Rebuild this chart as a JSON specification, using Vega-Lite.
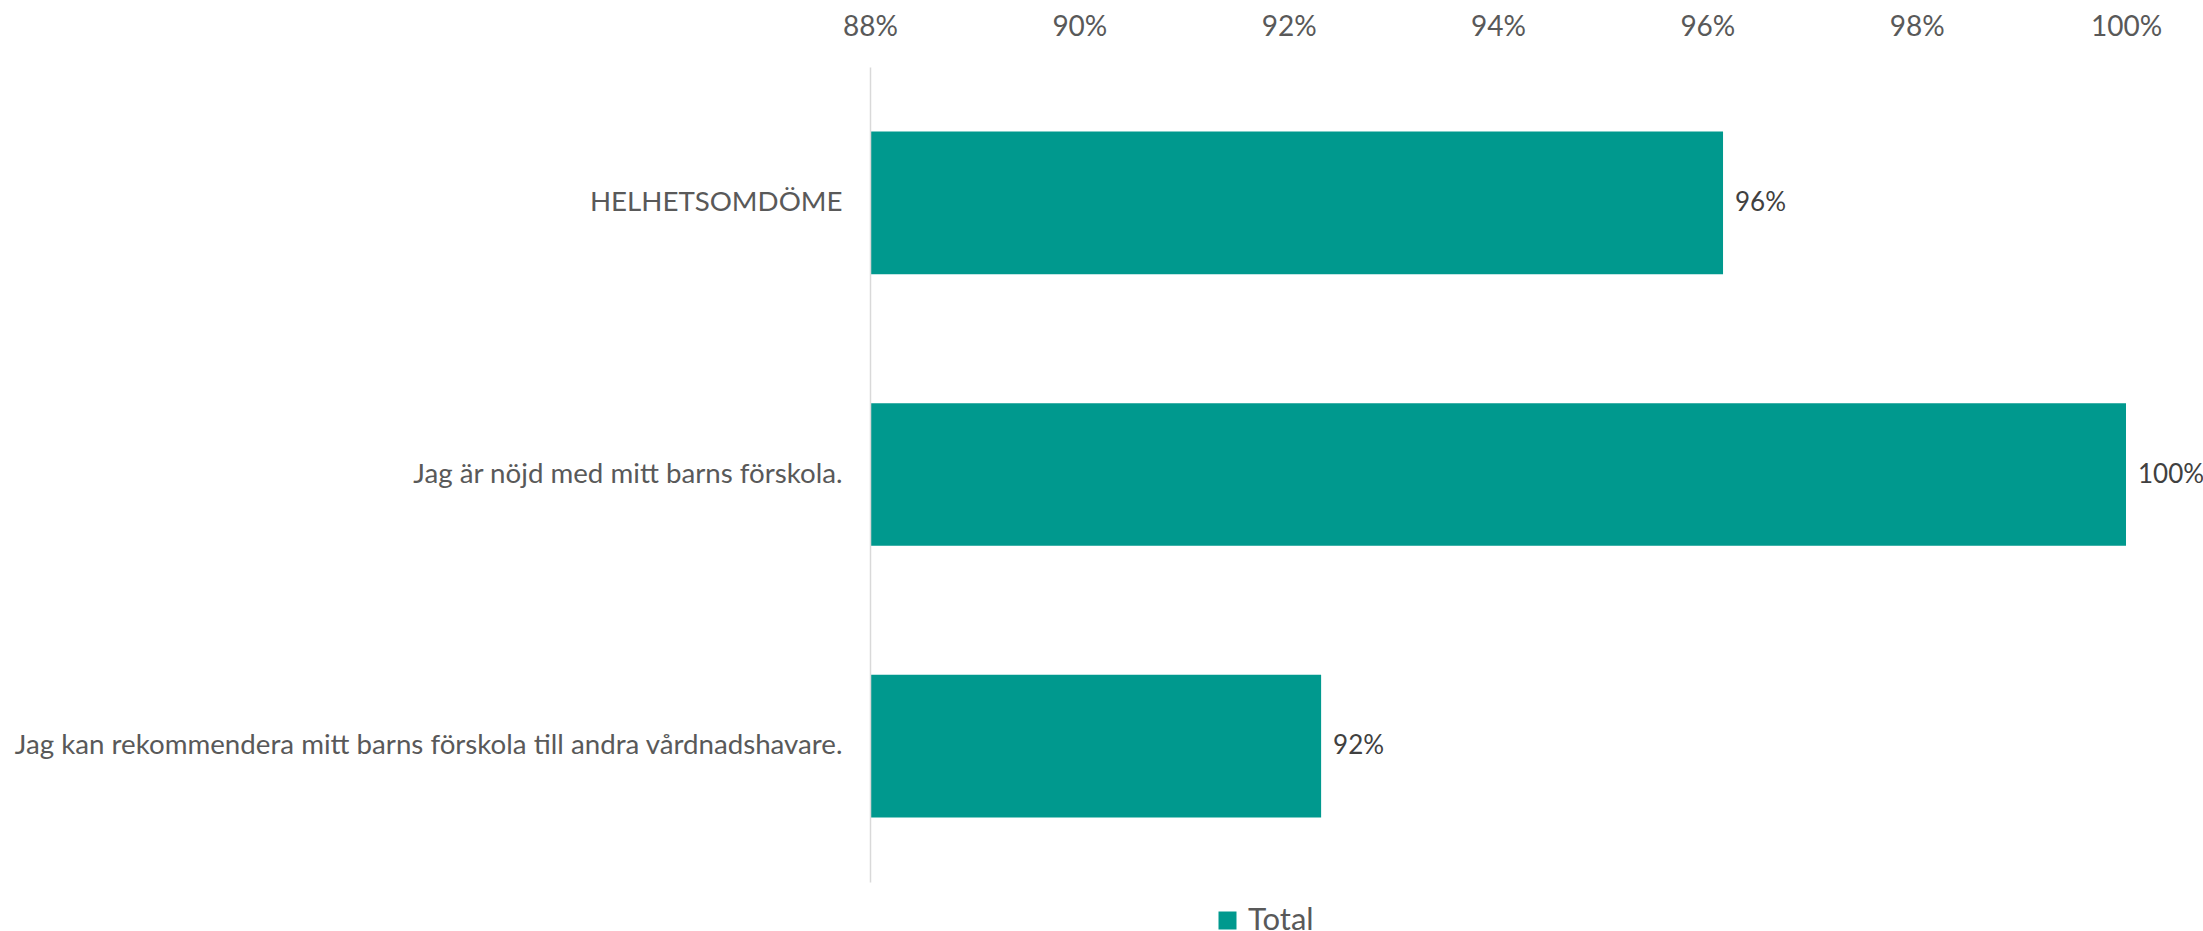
{
  "$schema": "https://vega.github.io/schema/vega-lite/v6.json",
  "autosize": {"type": "none"},
  "width": 1256,
  "height": 815,
  "padding": {"left": 870, "top": 67, "right": 77, "bottom": 49},
  "background": "white",
  "config": {
    "view": {"stroke": null},
    "font": "Lato"
  },
  "data": {
    "values": [
      {"fraga": "HELHETSOMDÖME", "andel": 0.9615, "serie": "Total"},
      {"fraga": "Jag är nöjd med mitt barns förskola.", "andel": 1.0, "serie": "Total"},
      {"fraga": "Jag kan rekommendera mitt barns förskola till andra vårdnadshavare.", "andel": 0.9231, "serie": "Total"}
    ]
  },
  "encoding": {
    "y": {
      "field": "fraga",
      "type": "nominal",
      "sort": null,
      "scale": {"paddingInner": 0.475, "paddingOuter": 0.2375},
      "axis": {
        "title": null,
        "ticks": false,
        "domain": true,
        "domainColor": "#d9d9d9",
        "domainWidth": 1.5,
        "labelFontSize": 27.7,
        "labelColor": "#595959",
        "labelPadding": 28,
        "labelLimit": 900,
        "grid": false,
        "zindex": 1
      }
    },
    "x": {
      "field": "andel",
      "type": "quantitative",
      "scale": {"domain": [0.88, 1.0], "zero": false, "nice": false},
      "axis": {
        "orient": "top",
        "title": null,
        "format": ".0%",
        "values": [0.88, 0.9, 0.92, 0.94, 0.96, 0.98, 1.0],
        "ticks": false,
        "domain": false,
        "grid": false,
        "labelFontSize": 28,
        "labelColor": "#595959",
        "labelPadding": 26,
        "labelFlush": false
      }
    }
  },
  "layer": [
    {
      "mark": {"type": "bar"},
      "encoding": {
        "x2": {"datum": 0.88},
        "color": {
          "field": "serie",
          "type": "nominal",
          "scale": {"range": ["#00998E"]},
          "legend": {
            "title": null,
            "orient": "none",
            "legendX": 342,
            "legendY": 838,
            "padding": 0,
            "symbolType": "square",
            "symbolSize": 324,
            "symbolStrokeWidth": 0,
            "labelFontSize": 31,
            "labelColor": "#595959",
            "labelOffset": 5
          }
        }
      }
    },
    {
      "mark": {"type": "text", "align": "left", "baseline": "middle", "dx": 12, "fontSize": 26, "color": "#404040"},
      "encoding": {
        "text": {"field": "andel", "type": "quantitative", "format": ".0%"}
      }
    }
  ]
}
